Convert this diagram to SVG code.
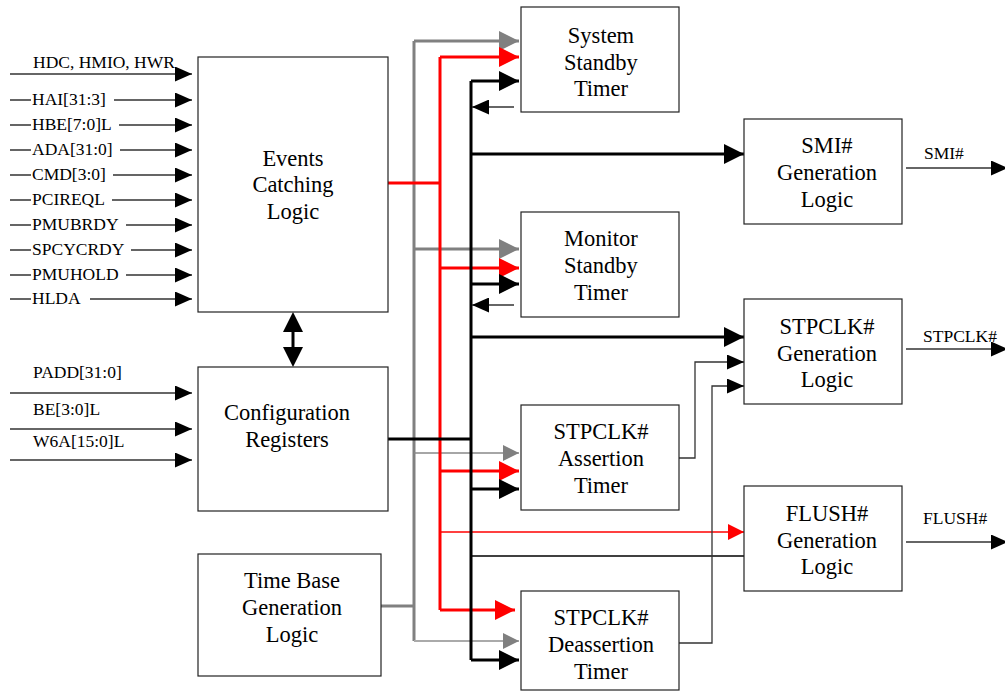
<svg xmlns="http://www.w3.org/2000/svg" width="1005" height="691" viewBox="0 0 1005 691">
<style>
.box{fill:#fff;stroke:#222;stroke-width:1.2}
.bt{font-family:"Liberation Serif","Times New Roman",serif;font-size:22.5px;fill:#000;text-anchor:middle}
.st{font-family:"Liberation Serif","Times New Roman",serif;font-size:17.5px;fill:#000}
.in{stroke:#333;stroke-width:1.3;fill:none}
.g{stroke:#808080;stroke-width:3;fill:none}
.r{stroke:#ff0000;stroke-width:3;fill:none}
.k{stroke:#000;stroke-width:3;fill:none}
.thin{stroke:#333;stroke-width:1.3;fill:none}
</style>
<defs>
<marker id="ak" markerUnits="userSpaceOnUse" markerWidth="20" markerHeight="20" refX="20" refY="10" orient="auto"><path d="M0,0L20,10L0,20z" fill="#000"/></marker>
<marker id="ag" markerUnits="userSpaceOnUse" markerWidth="20" markerHeight="20" refX="20" refY="10" orient="auto"><path d="M0,0L20,10L0,20z" fill="#808080"/></marker>
<marker id="ar" markerUnits="userSpaceOnUse" markerWidth="20" markerHeight="20" refX="20" refY="10" orient="auto"><path d="M0,0L20,10L0,20z" fill="#ff0000"/></marker>
<marker id="aks" markerUnits="userSpaceOnUse" markerWidth="17" markerHeight="15" refX="17" refY="7.5" orient="auto"><path d="M0,0L17,7.5L0,15z" fill="#000"/></marker>
<marker id="ags" markerUnits="userSpaceOnUse" markerWidth="16" markerHeight="16" refX="16" refY="8" orient="auto"><path d="M0,0L16,8L0,16z" fill="#808080"/></marker>
<marker id="ars" markerUnits="userSpaceOnUse" markerWidth="16" markerHeight="16" refX="16" refY="8" orient="auto"><path d="M0,0L16,8L0,16z" fill="#ff0000"/></marker>
</defs>
<rect width="1005" height="691" fill="#fff"/>

<g id="connectors">
<path class="in" d="M10,74H192" marker-end="url(#aks)"/>
<path class="in" d="M10,100H31M114,100H192" marker-end="url(#aks)"/>
<path class="in" d="M10,125H31M119,125H192" marker-end="url(#aks)"/>
<path class="in" d="M10,150H31M120,150H192" marker-end="url(#aks)"/>
<path class="in" d="M10,175H31M113,175H192" marker-end="url(#aks)"/>
<path class="in" d="M10,200H31M112,200H192" marker-end="url(#aks)"/>
<path class="in" d="M10,225H31M126,225H192" marker-end="url(#aks)"/>
<path class="in" d="M10,250H31M131,250H192" marker-end="url(#aks)"/>
<path class="in" d="M10,275H31M126,275H192" marker-end="url(#aks)"/>
<path class="in" d="M10,299H31M90,299H192" marker-end="url(#aks)"/>
<path class="in" d="M10,393H192" marker-end="url(#aks)"/>
<path class="in" d="M10,429H192" marker-end="url(#aks)"/>
<path class="in" d="M10,460H192" marker-end="url(#aks)"/>
<path class="k" d="M293,330V349"/>
<path d="M293,312L303,332L283,332z" fill="#000"/>
<path d="M293,367L303,347L283,347z" fill="#000"/>
<path class="g" d="M414,41V641"/>
<path class="g" d="M414,41H519" marker-end="url(#ag)"/>
<path class="g" d="M414,249H519" marker-end="url(#ag)"/>
<path class="g" d="M381,606H414"/>
<path d="M414,453H519" stroke="#888" stroke-width="1.5" fill="none" marker-end="url(#ags)"/>
<path d="M414,641H519" stroke="#aaa" stroke-width="2" fill="none" marker-end="url(#ags)"/>
<path class="r" d="M440,57V610"/>
<path class="r" d="M387,183H440"/>
<path class="r" d="M440,57H519" marker-end="url(#ar)"/>
<path class="r" d="M440,268H519" marker-end="url(#ar)"/>
<path class="r" d="M440,471H519" marker-end="url(#ar)"/>
<path class="r" d="M440,610H515" marker-end="url(#ar)"/>
<path d="M440,532H744" stroke="#ff0000" stroke-width="1.3" fill="none" marker-end="url(#ars)"/>
<path class="k" d="M471,81V660"/>
<path class="k" d="M387,439H471"/>
<path class="k" d="M471,81H519" marker-end="url(#ak)"/>
<path class="k" d="M471,154H744" marker-end="url(#ak)"/>
<path class="k" d="M471,284H519" marker-end="url(#ak)"/>
<path class="k" d="M471,337H744" marker-end="url(#ak)"/>
<path class="k" d="M471,489H519" marker-end="url(#ak)"/>
<path class="k" d="M471,660H519" marker-end="url(#ak)"/>
<path d="M471,556H744" stroke="#000" stroke-width="1.5" fill="none"/>
<path class="thin" d="M514,107H472" marker-end="url(#aks)"/>
<path class="thin" d="M514,305H472" marker-end="url(#aks)"/>
<path class="thin" d="M679,458H695V362H744" marker-end="url(#aks)"/>
<path class="thin" d="M679,643H712V386H744" marker-end="url(#aks)"/>
<path class="thin" d="M906,168H1008" marker-end="url(#aks)"/>
<path class="thin" d="M906,349H1008" marker-end="url(#aks)"/>
<path class="thin" d="M906,542H1008" marker-end="url(#aks)"/>
</g>

<g id="input-labels">
<text class="st" x="33" y="68">HDC, HMIO, HWR</text>
<text class="st" x="32" y="105">HAI[31:3]</text>
<text class="st" x="32" y="130">HBE[7:0]L</text>
<text class="st" x="32" y="155">ADA[31:0]</text>
<text class="st" x="32" y="180">CMD[3:0]</text>
<text class="st" x="32" y="205">PCIREQL</text>
<text class="st" x="32" y="230">PMUBRDY</text>
<text class="st" x="32" y="255">SPCYCRDY</text>
<text class="st" x="32" y="280">PMUHOLD</text>
<text class="st" x="32" y="304">HLDA</text>
<text class="st" x="33" y="378">PADD[31:0]</text>
<text class="st" x="33" y="415">BE[3:0]L</text>
<text class="st" x="33" y="447">W6A[15:0]L</text>
<text class="st" x="924" y="159">SMI#</text>
<text class="st" x="923" y="342">STPCLK#</text>
<text class="st" x="923" y="524">FLUSH#</text>
</g>

<g id="events">
<rect class="box" x="198" y="57" width="190" height="255"/>
<text class="bt" x="293" y="166">Events</text>
<text class="bt" x="293" y="192">Catching</text>
<text class="bt" x="293" y="219">Logic</text>
</g>
<g id="config">
<rect class="box" x="198" y="367" width="190" height="144"/>
<text class="bt" x="287" y="420">Configuration</text>
<text class="bt" x="287" y="447">Registers</text>
</g>
<g id="timebase">
<rect class="box" x="198" y="554" width="183" height="122"/>
<text class="bt" x="292" y="588">Time Base</text>
<text class="bt" x="292" y="615">Generation</text>
<text class="bt" x="292" y="642">Logic</text>
</g>
<g id="system-standby">
<rect class="box" x="521" y="7" width="158" height="105"/>
<text class="bt" x="601" y="43">System</text>
<text class="bt" x="601" y="70">Standby</text>
<text class="bt" x="601" y="96">Timer</text>
</g>
<g id="monitor-standby">
<rect class="box" x="521" y="212" width="158" height="105"/>
<text class="bt" x="601" y="246">Monitor</text>
<text class="bt" x="601" y="273">Standby</text>
<text class="bt" x="601" y="300">Timer</text>
</g>
<g id="assertion">
<rect class="box" x="521" y="405" width="158" height="105"/>
<text class="bt" x="601" y="439">STPCLK#</text>
<text class="bt" x="601" y="466">Assertion</text>
<text class="bt" x="601" y="493">Timer</text>
</g>
<g id="deassertion">
<rect class="box" x="521" y="591" width="158" height="99"/>
<text class="bt" x="601" y="625">STPCLK#</text>
<text class="bt" x="601" y="652">Deassertion</text>
<text class="bt" x="601" y="679">Timer</text>
</g>
<g id="smi">
<rect class="box" x="744" y="119" width="158" height="105"/>
<text class="bt" x="827" y="153">SMI#</text>
<text class="bt" x="827" y="180">Generation</text>
<text class="bt" x="827" y="207">Logic</text>
</g>
<g id="stpclk">
<rect class="box" x="744" y="299" width="158" height="105"/>
<text class="bt" x="827" y="334">STPCLK#</text>
<text class="bt" x="827" y="361">Generation</text>
<text class="bt" x="827" y="387">Logic</text>
</g>
<g id="flush">
<rect class="box" x="744" y="486" width="158" height="105"/>
<text class="bt" x="827" y="521">FLUSH#</text>
<text class="bt" x="827" y="548">Generation</text>
<text class="bt" x="827" y="574">Logic</text>
</g>
</svg>
